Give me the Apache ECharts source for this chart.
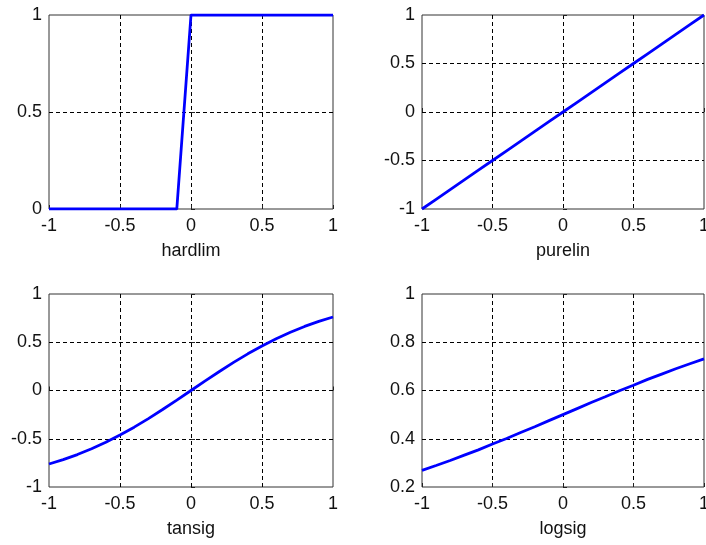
<!DOCTYPE html>
<html>
<head>
<meta charset="utf-8">
<title>Transfer functions</title>
<script src="https://cdn.jsdelivr.net/npm/echarts@6/dist/echarts.min.js"></script>
<style>
  html, body { margin: 0; padding: 0; background: #fff; }
  #main { width: 706px; height: 545px; }
</style>
</head>
<body>
<div id="main"></div>
<script>
// x positions of the sampled points
var xs = [-1, -0.9, -0.8, -0.7, -0.6, -0.5, -0.4, -0.3, -0.2, -0.1, 0, 0.1, 0.2, 0.3, 0.4, 0.5, 0.6, 0.7, 0.8, 0.9, 1];

// hardlim: flat at 0, steep rise just before 0, then flat at 1
var hardlimX = [-1, -0.1, 0, 1];
var hardlimY = [0, 0, 1, 1];

var purelinY = [-1, -0.9, -0.8, -0.7, -0.6, -0.5, -0.4, -0.3, -0.2, -0.1, 0, 0.1, 0.2, 0.3, 0.4, 0.5, 0.6, 0.7, 0.8, 0.9, 1];
var tansigY = [-0.762, -0.716, -0.664, -0.604, -0.537, -0.462, -0.38, -0.291, -0.197, -0.1, 0, 0.1, 0.197, 0.291, 0.38, 0.462, 0.537, 0.604, 0.664, 0.716, 0.762];
var logsigY = [0.269, 0.289, 0.31, 0.332, 0.354, 0.378, 0.401, 0.426, 0.45, 0.475, 0.5, 0.525, 0.55, 0.574, 0.599, 0.622, 0.646, 0.668, 0.69, 0.711, 0.731];

var names = ['hardlim', 'purelin', 'tansig', 'logsig'];

function pairs(x, y) {
  return x.map(function (v, i) { return [v, y[i]]; });
}

var font = 'Arial, "Liberation Sans", sans-serif';
var dashed = {
  show: true, showMinLine: false, showMaxLine: false,
  lineStyle: { color: '#000', type: [4, 3], width: 1 }
};
var ticks = { show: true, inside: true, length: 4, lineStyle: { color: '#222' } };
var labelStyle = { color: '#111', fontSize: 18, fontFamily: font };

var grids = [
  { left: 49, top: 15, width: 284, height: 194 },
  { left: 422, top: 15, width: 282, height: 194 },
  { left: 49, top: 294, width: 284, height: 193 },
  { left: 422, top: 294, width: 282, height: 193 }
].map(function (g) {
  return Object.assign({
    show: true, borderColor: '#333', borderWidth: 1, backgroundColor: '#fff',
    containLabel: false, outerBoundsMode: 'none'
  }, g);
});

var xAxes = names.map(function (n, i) {
  return {
    gridIndex: i, type: 'value', min: -1, max: 1, interval: 0.5,
    name: n, nameLocation: 'middle', nameGap: 33,
    nameTextStyle: labelStyle,
    axisLine: { show: false }, axisTick: ticks,
    axisLabel: Object.assign({ margin: 8 }, labelStyle),
    splitLine: dashed
  };
});

var yRanges = [[0, 1, 0.5], [-1, 1, 0.5], [-1, 1, 0.5], [0.2, 1, 0.2]];
var yAxes = yRanges.map(function (r, i) {
  return {
    gridIndex: i, type: 'value', min: r[0], max: r[1], interval: r[2],
    axisLine: { show: false }, axisTick: ticks,
    axisLabel: Object.assign({ margin: 7 }, labelStyle),
    splitLine: dashed
  };
});

var seriesData = [
  pairs(hardlimX, hardlimY),
  pairs(xs, purelinY),
  pairs(xs, tansigY),
  pairs(xs, logsigY)
];

var chart = echarts.init(document.getElementById('main'));
chart.setOption({
  animation: false,
  grid: grids,
  xAxis: xAxes,
  yAxis: yAxes,
  series: seriesData.map(function (d, i) {
    return {
      type: 'line', xAxisIndex: i, yAxisIndex: i, data: d,
      showSymbol: false,
      lineStyle: { color: '#0000ff', width: 2.8 },
      z: 5
    };
  })
});
</script>
</body>
</html>
